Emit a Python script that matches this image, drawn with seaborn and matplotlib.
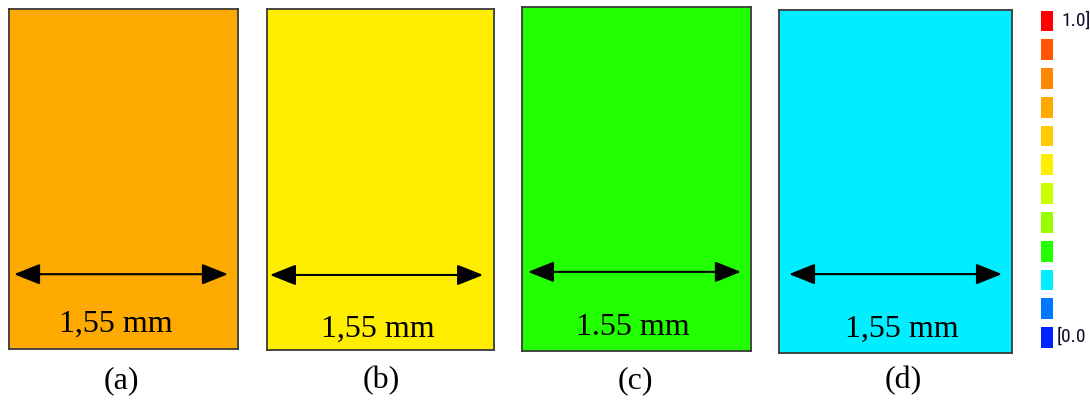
import numpy as np
import matplotlib
matplotlib.use("Agg")
import matplotlib.pyplot as plt
from matplotlib import font_manager
from matplotlib.colors import ListedColormap, BoundaryNorm
import seaborn as sns

# Discrete contour scale (bottom level first)
level_colors = ["#0022FF", "#0077FF", "#00EEFF", "#22FF00", "#99FF00", "#CCFF00",
                "#FFEE00", "#FFCC00", "#FFAA00", "#FF8800", "#FF5500", "#FF0000"]
scale_min, scale_max = 0.0, 1.0
scale_labels = ["[0.0", "1.0]"]

# One uniform field value per specimen
panel_labels = ["(a)", "(b)", "(c)", "(d)"]
panel_values = [0.70, 0.54, 0.29, 0.21]
width_labels = ["1,55 mm", "1,55 mm", "1.55 mm", "1,55 mm"]

sns.set_theme(style="white")
plt.rcParams["font.family"] = ["Liberation Serif", "DejaVu Serif"]

# narrow sans face for the scale labels, if one is installed
installed = {f.name for f in font_manager.fontManager.ttflist}
narrow = next((n for n in ["Liberation Sans Narrow", "Roboto Condensed", "Arial Narrow"]
               if n in installed), None)
scale_font = dict(family=narrow, fontsize=14) if narrow else dict(family="Liberation Sans", fontsize=12)

W, H = 1090, 401
fig = plt.figure(figsize=(W / 100, H / 100), dpi=100)
fig.patch.set_facecolor("white")

def px_axes(x0, y0, x1, y1):
    return fig.add_axes([x0 / W, 1 - y1 / H, (x1 - x0) / W, (y1 - y0) / H])

bounds = np.linspace(scale_min, scale_max, len(level_colors) + 1)
cmap = ListedColormap(level_colors)
norm = BoundaryNorm(bounds, cmap.N)

# panel boxes in pixels (left, top, right, bottom)
boxes = [(9, 9, 238, 349), (267, 9, 494, 350), (522, 7, 751, 351), (779, 10, 1012, 353)]
arrow_span = [(0.022, 0.956, 0.22), (0.013, 0.952, 0.22), (0.026, 0.956, 0.23), (0.043, 0.957, 0.23)]
text_pos = [(0.467, 0.05), (0.489, 0.038), (0.485, 0.047), (0.528, 0.047)]
label_x = [121, 381, 635, 903]

for i, (val, box) in enumerate(zip(panel_values, boxes)):
    ax = px_axes(*box)
    sns.heatmap(np.array([[val]]), ax=ax, cmap=cmap, norm=norm, cbar=False,
                xticklabels=False, yticklabels=False)
    for sp in ax.spines.values():
        sp.set_visible(True)
        sp.set_color("#3a3a3a")
        sp.set_linewidth(1.3)
    x1, x2, yf = arrow_span[i]
    ax.annotate("", xy=(x2, yf), xytext=(x1, yf), xycoords="axes fraction",
                arrowprops=dict(arrowstyle="<|-|>,head_length=0.8,head_width=0.32",
                                color="black", lw=1.5, shrinkA=0, shrinkB=0,
                                mutation_scale=20))
    tx, ty = text_pos[i]
    ax.text(tx, ty, width_labels[i], transform=ax.transAxes, ha="center",
            va="baseline", fontsize=23, color="black")
    fig.text(label_x[i] / W, 1 - 388 / H, panel_labels[i], ha="center",
             va="baseline", fontsize=23, color="black")

# legend of the discrete scale
cax = px_axes(1037, 6.6, 1057, 351.9)
levels = np.array([(bounds[k] + bounds[k + 1]) / 2 for k in range(len(level_colors))])[::-1]
sns.heatmap(levels[:, None], ax=cax, cmap=cmap, norm=norm, cbar=False,
            xticklabels=False, yticklabels=False, linewidths=5.4, linecolor="white")
for sp in cax.spines.values():
    sp.set_visible(False)

fig.text(1061 / W, 1 - 21 / H, scale_labels[1], ha="left", va="center",
         color="#0a0a2a", **scale_font)
fig.text(1057 / W, 1 - 337 / H, scale_labels[0], ha="left", va="center",
         color="#0a0a2a", **scale_font)

fig.savefig("out.png", dpi=100, facecolor="white")
